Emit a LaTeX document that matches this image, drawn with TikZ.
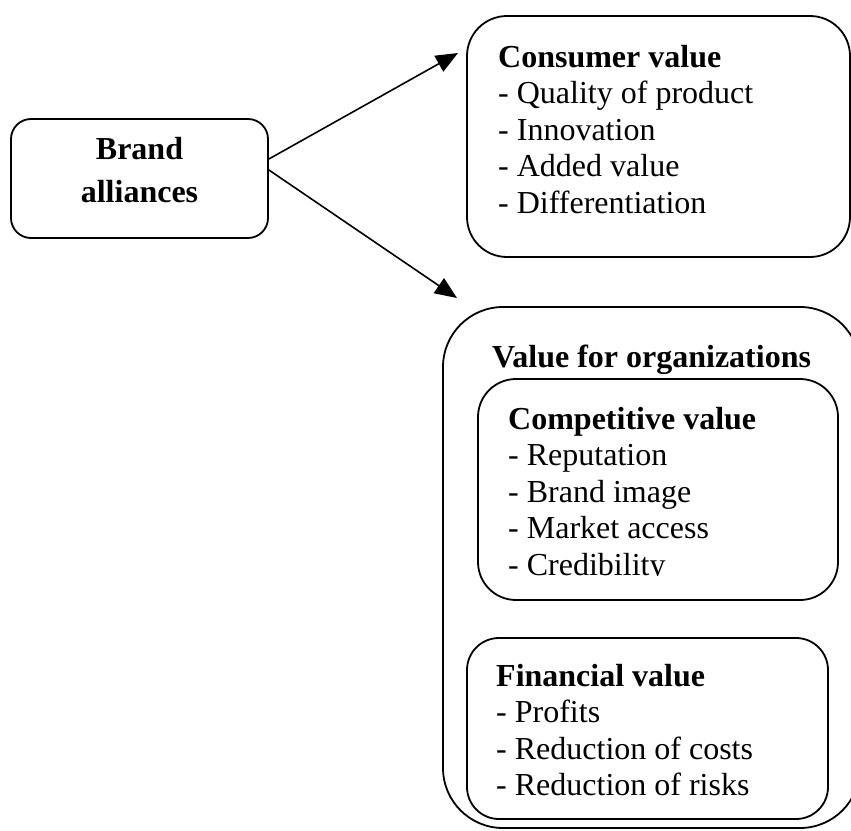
\documentclass[tikz,border=0pt]{standalone}
\usepackage{fontspec}
\setmainfont{Liberation Serif}
\usetikzlibrary{arrows.meta}

\tikzset{
	box/.style={draw, line width=1.8pt, inner sep=0pt},
	listtext/.style={inner sep=0pt, anchor=north west, align=left, font=\fontsize{32}{36.5}\selectfont},
	link/.style={line width=1.6pt, -{Triangle[length=22pt, width=18pt]}}
}

\begin{document}
\begin{tikzpicture}[x=1pt, y=-1pt]
		\useasboundingbox (0, 0) rectangle (851, 830);

		\node[box, rounded corners=20pt, minimum width=257pt, minimum height=119pt] (brand) at (139.5, 178.5) {};
		\node[inner sep=0pt, anchor=north, align=center, font=\bfseries\fontsize{32}{43}\selectfont] (brandtxt) at (139.5, 137) {Brand\\alliances};

		\node[box, rounded corners=40pt, minimum width=383pt, minimum height=241pt] (consumer) at (658.5, 136.5) {};
		\node[listtext] (consumertxt) at (498, 45) {\textbf{Consumer value}\\- Quality of product\\- Innovation\\- Added value\\- Differentiation};

		\node[box, rounded corners=60pt, minimum width=417pt, minimum height=521pt] (orgs) at (651.5, 567.5) {};
		\node[inner sep=0pt, anchor=north west, font=\bfseries\fontsize{32}{36.5}\selectfont] (orgstxt) at (492, 345) {Value for organizations};

		\node[box, rounded corners=38pt, minimum width=360pt, minimum height=221pt] (competitive) at (658, 489.5) {};
		\begin{scope}
			\clip (480, 381) rectangle (836, 575);
			\node[listtext] (competitivetxt) at (508, 407) {\textbf{Competitive value}\\- Reputation\\- Brand image\\- Market access\\- Credibility};
		\end{scope}

		\node[box, rounded corners=32pt, minimum width=361pt, minimum height=181pt] (financial) at (647.5, 728.5) {};
		\node[listtext] (financialtxt) at (496, 664) {\textbf{Financial value}\\- Profits\\- Reduction of costs\\- Reduction of risks};

		\coordinate (consumertip) at (458, 53);
		\coordinate (orgstip) at (457, 298);
		\draw[link] ([yshift=19.5pt]brand.east) -- (consumertip);
		\draw[link] ([yshift=8.5pt]brand.east) -- (orgstip);
	\end{tikzpicture}
\end{document}
